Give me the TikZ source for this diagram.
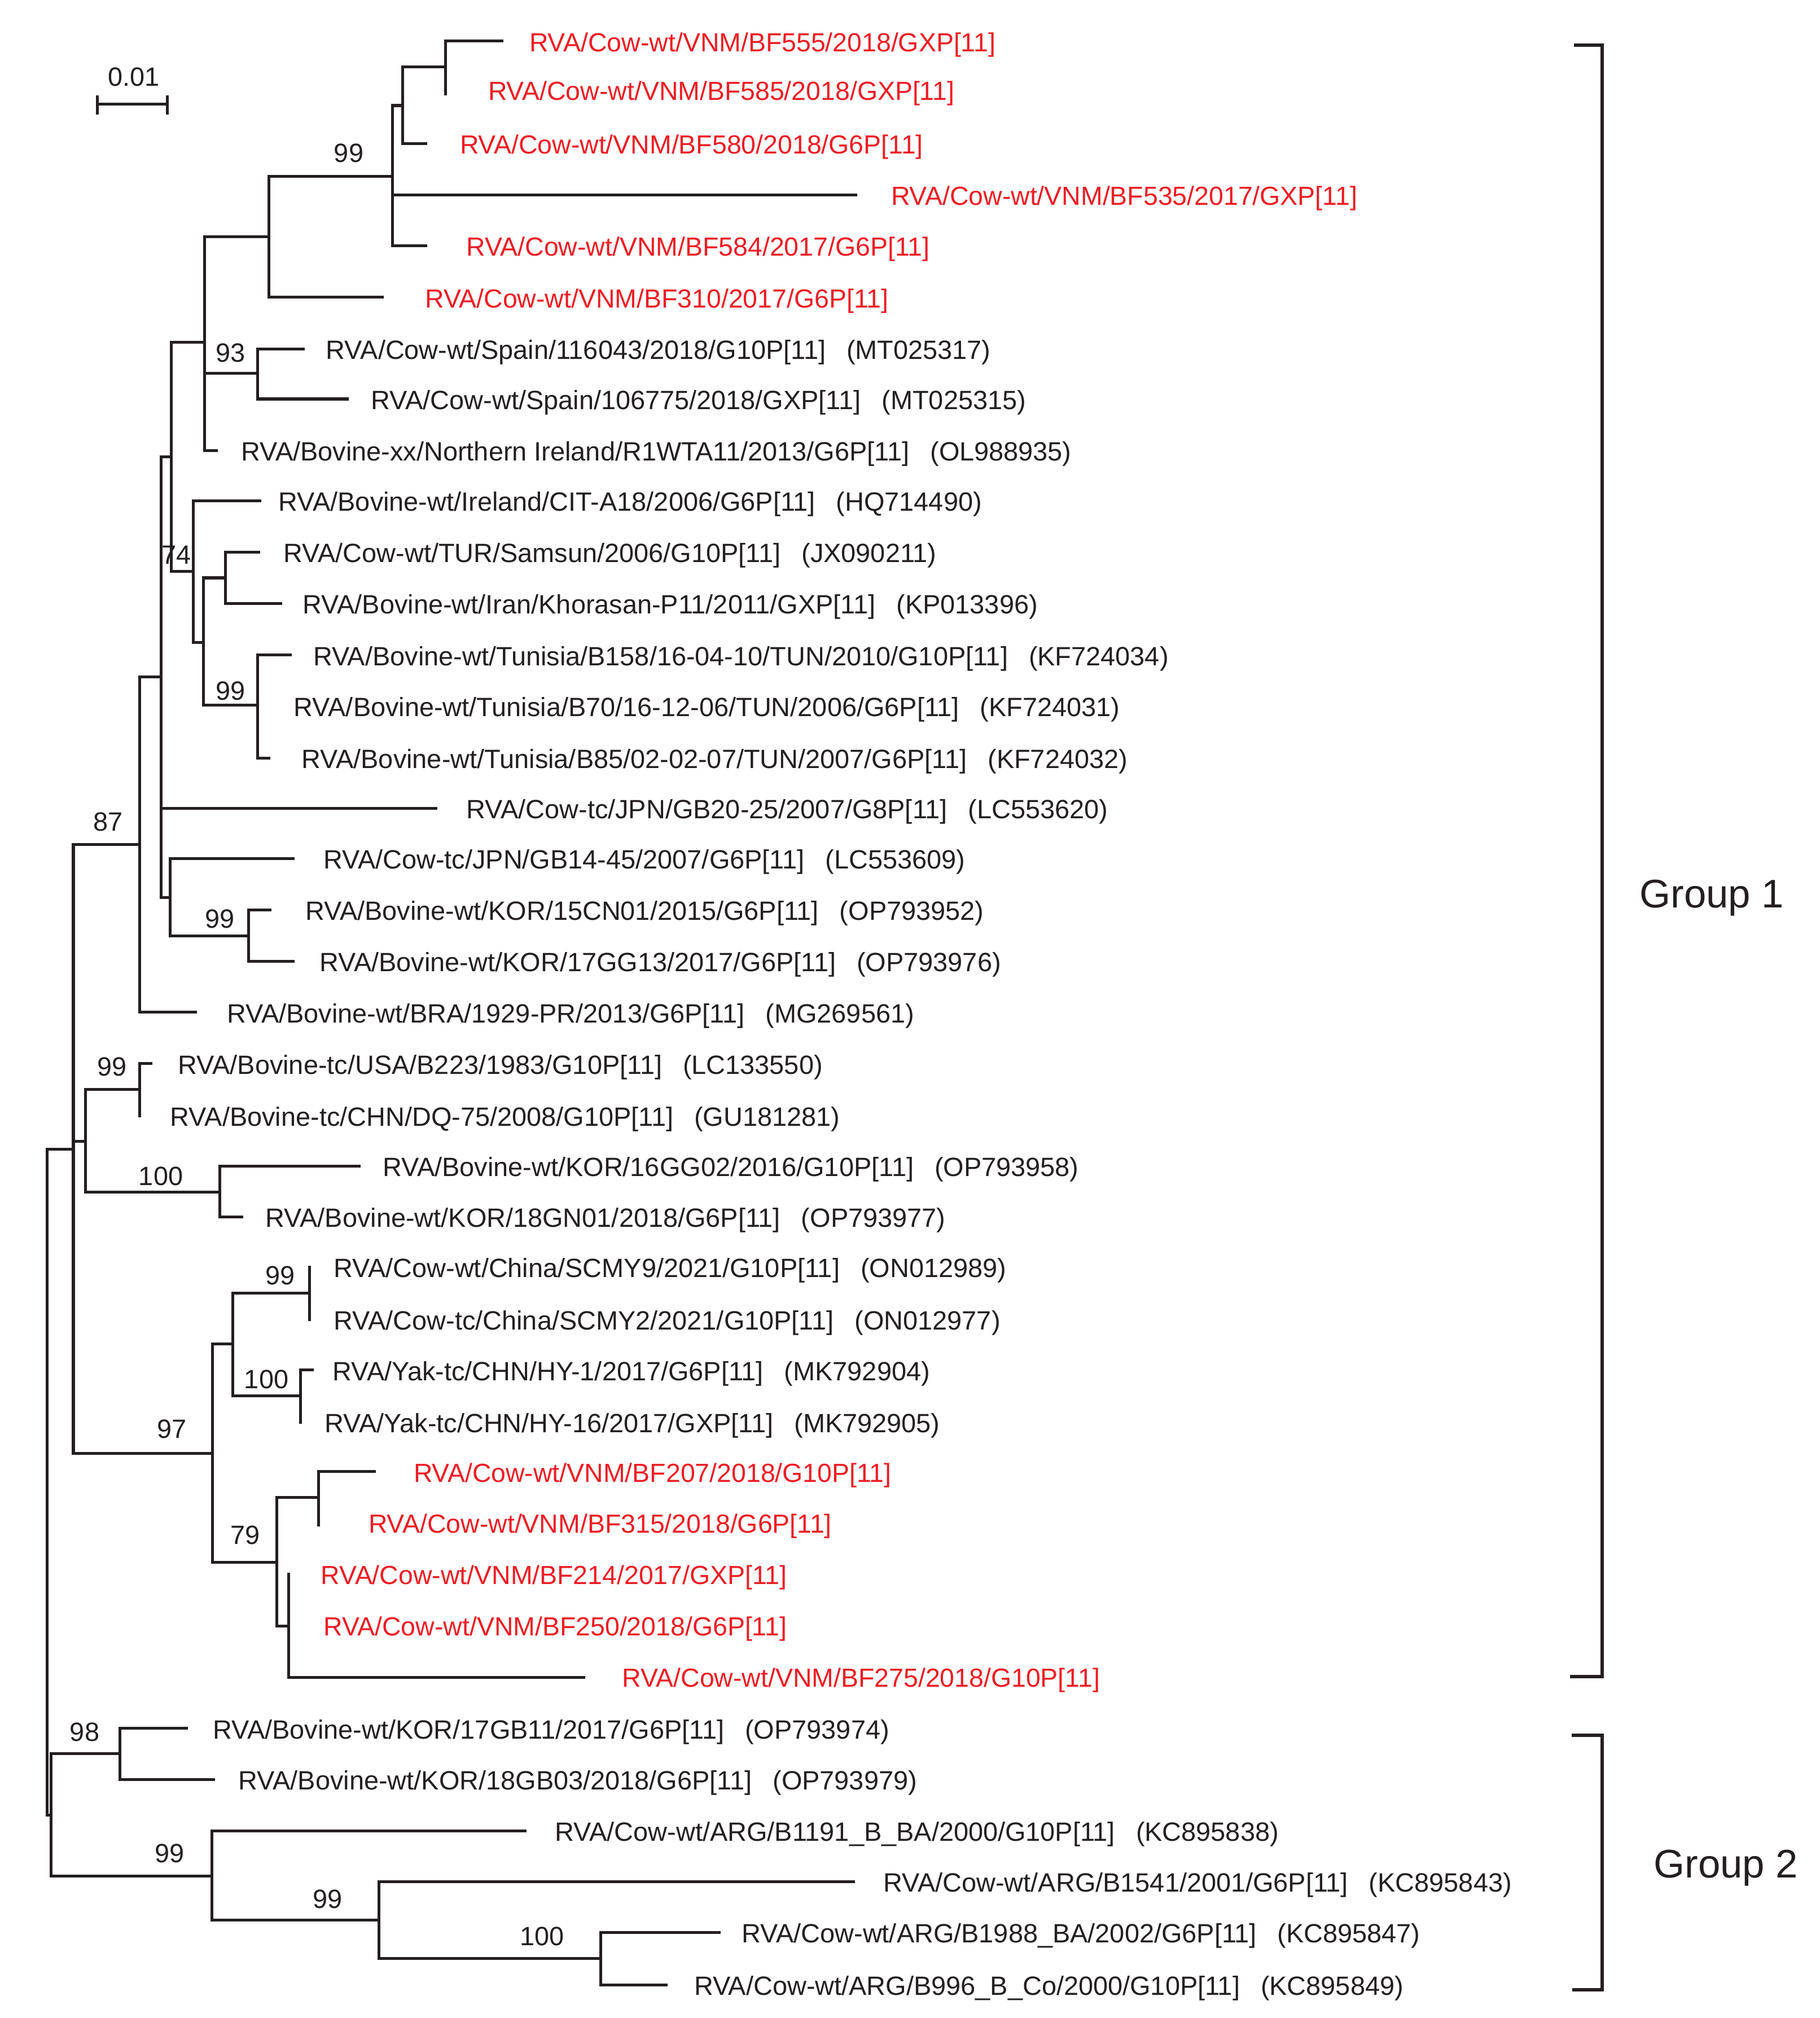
\documentclass[tikz,border=0pt]{standalone}
\usepackage{fontspec}
\setmainfont{Liberation Sans}
\definecolor{tred}{RGB}{237,28,36}
\definecolor{ink}{RGB}{35,31,32}
\begin{document}
\begin{tikzpicture}[x=0.5pt,y=-0.5pt,
  br/.style={line width=1.1pt, line cap=rect, line join=miter, draw=ink},
  bk/.style={line width=1.3pt, line cap=rect, line join=miter, draw=ink},
  lf/.style={anchor=base west, inner sep=0pt, text=ink, font=\fontsize{10.28pt}{12pt}\selectfont},
  rlf/.style={lf, text=tred, font=\fontsize{10.18pt}{12pt}\selectfont},
  bs/.style={anchor=center, inner sep=0pt, text=ink, font=\fontsize{10.28pt}{12pt}\selectfont},
  grp/.style={anchor=base, inner sep=0pt, text=ink, font=\fontsize{15.5pt}{18pt}\selectfont}]
\useasboundingbox (0,0) rectangle (1414,1568);

% ---------- internal nodes ----------
\coordinate (root) at (36.4,1150);
\coordinate (n57) at (57,893);
\coordinate (n108) at (108.5,656);
\coordinate (n125) at (125,526);
\coordinate (n133) at (133,355);
\coordinate (n159) at (159,266);
\coordinate (n209) at (209,184);
\coordinate (n305) at (305,137);
\coordinate (n313) at (313,82);
\coordinate (n346) at (346,52);
\coordinate (n200a) at (200,290);
\coordinate (n150) at (150,444);
\coordinate (n158) at (158,499);
\coordinate (n175) at (175,449);
\coordinate (n200b) at (200,548);
\coordinate (n132) at (132,697.5);
\coordinate (n193) at (193,727);
\coordinate (n66) at (66.6,886.6);
\coordinate (n108b) at (108.5,846.4);
\coordinate (n171) at (171,926.2);
\coordinate (n165) at (165,1129.5);
\coordinate (n181) at (181,1044.4);
\coordinate (n240) at (240.5,1004.8);
\coordinate (n233) at (233.6,1084.5);
\coordinate (n215) at (215,1214);
\coordinate (n247) at (247.6,1163.5);
\coordinate (n224) at (224.4,1263.3);
\coordinate (n39) at (39.5,1410.4);
\coordinate (n93) at (93.2,1362.5);
\coordinate (n164) at (164.5,1457.5);
\coordinate (n294) at (294.4,1492);
\coordinate (n466) at (466.7,1521.8);

% ---------- leaf tips ----------
\coordinate (t1) at (390,32);
\coordinate (t2) at (346,73);
\coordinate (t3) at (331,111.5);
\coordinate (t4) at (665,151.5);
\coordinate (t5) at (331,191);
\coordinate (t6) at (297,231);
\coordinate (t7) at (235.5,271);
\coordinate (t8) at (270,310);
\coordinate (t9) at (168,350);
\coordinate (t10) at (202,389);
\coordinate (t11) at (201,429);
\coordinate (t12) at (218,469);
\coordinate (t13) at (225.5,509);
\coordinate (t14) at (200,548.5);
\coordinate (t15) at (209,589);
\coordinate (t16) at (338.5,628);
\coordinate (t17) at (228,667);
\coordinate (t18) at (210,707);
\coordinate (t19) at (228,747);
\coordinate (t20) at (152,786.6);
\coordinate (t21) at (117.5,826.5);
\coordinate (t22) at (108.5,867);
\coordinate (t23) at (279,906);
\coordinate (t24) at (188,945.5);
\coordinate (t25) at (240.5,984.6);
\coordinate (t26) at (240.5,1025.3);
\coordinate (t27) at (242.8,1064.6);
\coordinate (t28) at (233.6,1105);
\coordinate (t29) at (291,1143.5);
\coordinate (t30) at (247.6,1185);
\coordinate (t31) at (224.4,1223);
\coordinate (t32) at (224.4,1263);
\coordinate (t33) at (453.4,1303.5);
\coordinate (t34) at (144.9,1343);
\coordinate (t35) at (166,1382.7);
\coordinate (t36) at (408,1422.6);
\coordinate (t37) at (663,1462.2);
\coordinate (t38) at (558.7,1501.6);
\coordinate (t39) at (517.6,1542.3);

% ---------- branches ----------
\foreach \p/\c in {root/n57, root/n39,
  n57/n108, n57/n66, n57/n165,
  n108/n125, n108/t20,
  n125/n133, n125/t16, n125/n132,
  n133/n159, n133/n150,
  n159/n209, n159/n200a, n159/t9,
  n209/n305, n209/t6,
  n305/n313, n305/t4, n305/t5,
  n313/n346, n313/t3,
  n346/t1, n346/t2,
  n200a/t7, n200a/t8,
  n150/t10, n150/n158,
  n158/n175, n158/n200b,
  n175/t11, n175/t12,
  n200b/t13, n200b/t14, n200b/t15,
  n132/t17, n132/n193,
  n193/t18, n193/t19,
  n66/n108b, n66/n171,
  n108b/t21, n108b/t22,
  n171/t23, n171/t24,
  n165/n181, n165/n215,
  n181/n240, n181/n233,
  n240/t25, n240/t26,
  n233/t27, n233/t28,
  n215/n247, n215/n224,
  n247/t29, n247/t30,
  n224/t31, n224/t32, n224/t33,
  n39/n93, n39/n164,
  n93/t34, n93/t35,
  n164/t36, n164/n294,
  n294/t37, n294/n466,
  n466/t38, n466/t39}
  \draw[br] (\p) |- (\c);

% ---------- leaf labels ----------
\node[rlf] (l1) at (411,40) {RVA/Cow-wt/VNM/BF555/2018/GXP[11]};
\node[rlf] (l2) at (379,78) {RVA/Cow-wt/VNM/BF585/2018/GXP[11]};
\node[rlf] (l3) at (357,119.5) {RVA/Cow-wt/VNM/BF580/2018/G6P[11]};
\node[rlf] (l4) at (692,159.5) {RVA/Cow-wt/VNM/BF535/2017/GXP[11]};
\node[rlf] (l5) at (362,199) {RVA/Cow-wt/VNM/BF584/2017/G6P[11]};
\node[rlf] (l6) at (330,239) {RVA/Cow-wt/VNM/BF310/2017/G6P[11]};
\node[lf] (l7) at (253,279) {RVA/Cow-wt/Spain/116043/2018/G10P[11]\hspace{0.79em}(MT025317)};
\node[lf] (l8) at (288,318) {RVA/Cow-wt/Spain/106775/2018/GXP[11]\hspace{0.79em}(MT025315)};
\node[lf] (l9) at (187,358) {RVA/Bovine-xx/Northern Ireland/R1WTA11/2013/G6P[11]\hspace{0.79em}(OL988935)};
\node[lf] (l10) at (216,397) {RVA/Bovine-wt/Ireland/CIT-A18/2006/G6P[11]\hspace{0.79em}(HQ714490)};
\node[lf] (l11) at (220,437) {RVA/Cow-wt/TUR/Samsun/2006/G10P[11]\hspace{0.79em}(JX090211)};
\node[lf] (l12) at (235,477) {RVA/Bovine-wt/Iran/Khorasan-P11/2011/GXP[11]\hspace{0.79em}(KP013396)};
\node[lf] (l13) at (243,517) {RVA/Bovine-wt/Tunisia/B158/16-04-10/TUN/2010/G10P[11]\hspace{0.79em}(KF724034)};
\node[lf] (l14) at (228,556.5) {RVA/Bovine-wt/Tunisia/B70/16-12-06/TUN/2006/G6P[11]\hspace{0.79em}(KF724031)};
\node[lf] (l15) at (234,597) {RVA/Bovine-wt/Tunisia/B85/02-02-07/TUN/2007/G6P[11]\hspace{0.79em}(KF724032)};
\node[lf] (l16) at (362,636) {RVA/Cow-tc/JPN/GB20-25/2007/G8P[11]\hspace{0.79em}(LC553620)};
\node[lf] (l17) at (251,675) {RVA/Cow-tc/JPN/GB14-45/2007/G6P[11]\hspace{0.79em}(LC553609)};
\node[lf] (l18) at (237,715) {RVA/Bovine-wt/KOR/15CN01/2015/G6P[11]\hspace{0.79em}(OP793952)};
\node[lf] (l19) at (248,755) {RVA/Bovine-wt/KOR/17GG13/2017/G6P[11]\hspace{0.79em}(OP793976)};
\node[lf] (l20) at (176,794.6) {RVA/Bovine-wt/BRA/1929-PR/2013/G6P[11]\hspace{0.79em}(MG269561)};
\node[lf] (l21) at (138,834.5) {RVA/Bovine-tc/USA/B223/1983/G10P[11]\hspace{0.79em}(LC133550)};
\node[lf] (l22) at (132,875) {RVA/Bovine-tc/CHN/DQ-75/2008/G10P[11]\hspace{0.79em}(GU181281)};
\node[lf] (l23) at (297,914) {RVA/Bovine-wt/KOR/16GG02/2016/G10P[11]\hspace{0.79em}(OP793958)};
\node[lf] (l24) at (206,953.5) {RVA/Bovine-wt/KOR/18GN01/2018/G6P[11]\hspace{0.79em}(OP793977)};
\node[lf] (l25) at (259,992.6) {RVA/Cow-wt/China/SCMY9/2021/G10P[11]\hspace{0.79em}(ON012989)};
\node[lf] (l26) at (259,1033.3) {RVA/Cow-tc/China/SCMY2/2021/G10P[11]\hspace{0.79em}(ON012977)};
\node[lf] (l27) at (258,1072.6) {RVA/Yak-tc/CHN/HY-1/2017/G6P[11]\hspace{0.79em}(MK792904)};
\node[lf] (l28) at (252,1113) {RVA/Yak-tc/CHN/HY-16/2017/GXP[11]\hspace{0.79em}(MK792905)};
\node[rlf] (l29) at (321,1151.5) {RVA/Cow-wt/VNM/BF207/2018/G10P[11]};
\node[rlf] (l30) at (286,1191) {RVA/Cow-wt/VNM/BF315/2018/G6P[11]};
\node[rlf] (l31) at (249,1231) {RVA/Cow-wt/VNM/BF214/2017/GXP[11]};
\node[rlf] (l32) at (251,1271) {RVA/Cow-wt/VNM/BF250/2018/G6P[11]};
\node[rlf] (l33) at (483,1311) {RVA/Cow-wt/VNM/BF275/2018/G10P[11]};
\node[lf] (l34) at (165,1351) {RVA/Bovine-wt/KOR/17GB11/2017/G6P[11]\hspace{0.79em}(OP793974)};
\node[lf] (l35) at (185,1390.7) {RVA/Bovine-wt/KOR/18GB03/2018/G6P[11]\hspace{0.79em}(OP793979)};
\node[lf] (l36) at (431,1430.6) {RVA/Cow-wt/ARG/B1191\_B\_BA/2000/G10P[11]\hspace{0.79em}(KC895838)};
\node[lf] (l37) at (686,1470.2) {RVA/Cow-wt/ARG/B1541/2001/G6P[11]\hspace{0.79em}(KC895843)};
\node[lf] (l38) at (576,1509.6) {RVA/Cow-wt/ARG/B1988\_BA/2002/G6P[11]\hspace{0.79em}(KC895847)};
\node[lf] (l39) at (539,1550.3) {RVA/Cow-wt/ARG/B996\_B\_Co/2000/G10P[11]\hspace{0.79em}(KC895849)};

% ---------- bootstrap values ----------
\node[bs] (b1) at (271,119) {99};
\node[bs] (b2) at (179,274) {93};
\node[bs] (b3) at (137,431) {74};
\node[bs] (b4) at (179,537) {99};
\node[bs] (b5) at (84,638.5) {87};
\node[bs] (b6) at (171,714) {99};
\node[bs] (b7) at (87,829) {99};
\node[bs] (b8) at (125,914) {100};
\node[bs] (b9) at (217.6,991) {99};
\node[bs] (b10) at (207,1071.8) {100};
\node[bs] (b11) at (133.7,1110.3) {97};
\node[bs] (b12) at (190.7,1192.9) {79};
\node[bs] (b13) at (65.8,1345.7) {98};
\node[bs] (b14) at (131.6,1440) {99};
\node[bs] (b15) at (254.5,1475.7) {99};
\node[bs] (b16) at (421,1504.7) {100};

% ---------- scale bar ----------
\coordinate (sbL) at (75.5,81);
\coordinate (sbR) at (130,81);
\draw[br, line cap=butt] (sbL) -- (sbR);
\draw[br, line cap=butt] ([yshift=3.5pt]sbL) -- ([yshift=-4pt]sbL);
\draw[br, line cap=butt] ([yshift=3.5pt]sbR) -- ([yshift=-4pt]sbR);
\node[bs] (sblab) at (104,60) {0.01};

% ---------- group brackets ----------
\coordinate (g1a) at (1224,35.2);
\coordinate (g1b) at (1245,35.2);
\coordinate (g1c) at (1245,1302.7);
\coordinate (g1d) at (1221,1302.7);
\draw[bk] (g1a) -- (g1b) -- (g1c) -- (g1d);
\node[grp] (grp1) at (1330,705.5) {Group 1};
\coordinate (g2a) at (1222.6,1348.5);
\coordinate (g2b) at (1245,1348.5);
\coordinate (g2c) at (1245,1546);
\coordinate (g2d) at (1223,1546);
\draw[bk] (g2a) -- (g2b) -- (g2c) -- (g2d);
\node[grp] (grp2) at (1341,1459) {Group 2};
\end{tikzpicture}
\end{document}
